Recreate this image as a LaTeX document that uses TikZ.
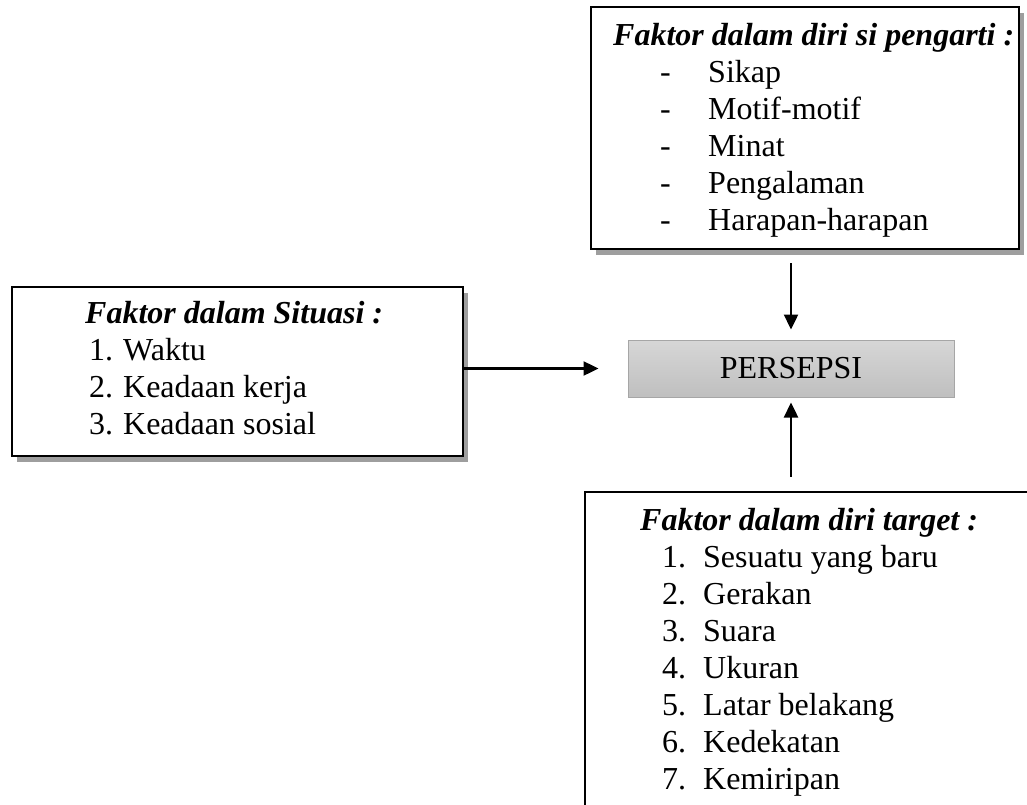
\documentclass[tikz,border=0pt]{standalone}
\usepackage{fontspec}
\setmainfont{Liberation Serif}
\usetikzlibrary{arrows.meta,shadows,calc}
\begin{document}
\begin{tikzpicture}[x=1pt,y=-1pt,
  box/.style={draw=black, line width=2.4pt, fill=white, rectangle, inner sep=0pt},
  shadowbox/.style={box, drop shadow={shadow xshift=5pt, shadow yshift=-6pt, fill=black!38, opacity=1}},
  txt/.style={inner sep=0pt, anchor=base west, font=\fontsize{32}{37}\selectfont},
  arr/.style={line width=2.4pt, -{Triangle[length=15pt,width=14pt]}}
]
\useasboundingbox (0,0) rectangle (1027,805);

% boxes
\node[shadowbox, minimum width=428pt, minimum height=242pt] (diri) at (805,128) {};
\node[shadowbox, minimum width=451pt, minimum height=169pt] (situasi) at (237.5,371.5) {};
\node[box, minimum width=455pt, minimum height=338pt] (target) at (812.5,661) {};
\node[draw=black!35, line width=1pt, top color=black!16, bottom color=black!25,
      minimum width=326pt, minimum height=57pt, inner sep=0pt,
      font=\fontsize{32}{37}\selectfont] (persepsi) at (791,368.5) {PERSEPSI};

% box texts
\node[txt] (diritxt) at (613,46) {\begin{tabular}[t]{@{}l@{}}
  \textbf{\textit{Faktor dalam diri si pengarti :}}\\
  \makebox[95pt][l]{\hspace*{47pt}-}Sikap\\
  \makebox[95pt][l]{\hspace*{47pt}-}Motif-motif\\
  \makebox[95pt][l]{\hspace*{47pt}-}Minat\\
  \makebox[95pt][l]{\hspace*{47pt}-}Pengalaman\\
  \makebox[95pt][l]{\hspace*{47pt}-}Harapan-harapan
\end{tabular}};

\node[txt] (situasitxt) at (85,323) {\begin{tabular}[t]{@{}l@{}}
  \textbf{\textit{Faktor dalam Situasi :}}\\
  \makebox[38pt][l]{\hspace*{4pt}1.}Waktu\\
  \makebox[38pt][l]{\hspace*{4pt}2.}Keadaan kerja\\
  \makebox[38pt][l]{\hspace*{4pt}3.}Keadaan sosial
\end{tabular}};

\node[txt] (targettxt) at (640,530) {\begin{tabular}[t]{@{}l@{}}
  \textbf{\textit{Faktor dalam diri target :}}\\
  \makebox[63pt][l]{\hspace*{22pt}1.}Sesuatu yang baru\\
  \makebox[63pt][l]{\hspace*{22pt}2.}Gerakan\\
  \makebox[63pt][l]{\hspace*{22pt}3.}Suara\\
  \makebox[63pt][l]{\hspace*{22pt}4.}Ukuran\\
  \makebox[63pt][l]{\hspace*{22pt}5.}Latar belakang\\
  \makebox[63pt][l]{\hspace*{22pt}6.}Kedekatan\\
  \makebox[63pt][l]{\hspace*{22pt}7.}Kemiripan
\end{tabular}};

% connectors
\draw[arr, shorten >=29pt] (situasi.east |- persepsi.west) -- (persepsi.west);
\draw[arr, shorten <=13pt, shorten >=10pt] (diri.south -| persepsi.north) -- (persepsi.north);
\draw[arr, shorten <=14pt, shorten >=5pt] (target.north -| persepsi.south) -- (persepsi.south);
\end{tikzpicture}
\end{document}
